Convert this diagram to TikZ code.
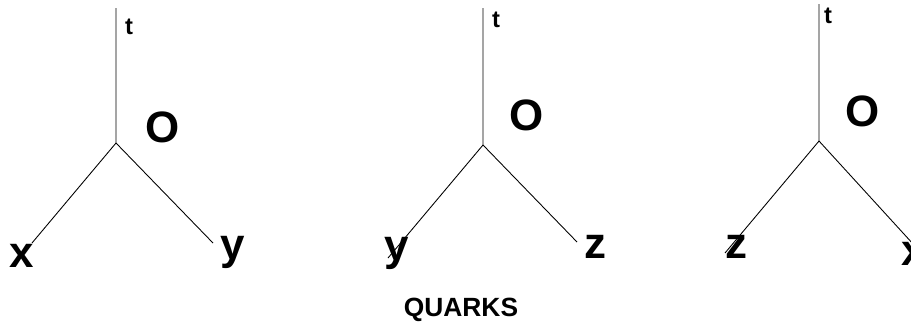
\documentclass[tikz,border=0pt]{standalone}
\usepackage{fontspec}
\setmainfont{Liberation Sans}
\usetikzlibrary{positioning}

\begin{document}
\begin{tikzpicture}[x=0.02cm,y=-0.02cm, line width=0.5pt,
  every node/.style={inner sep=0pt, anchor=base, font=\bfseries},
  axislbl/.style={font=\bfseries\fontsize{25}{25}\selectfont},
  originlbl/.style={font=\bfseries\fontsize{25}{25}\selectfont},
  timelbl/.style={font=\bfseries\fontsize{13.5}{13.5}\selectfont},
  captionlbl/.style={font=\bfseries\fontsize{15}{15}\selectfont}]
  \useasboundingbox (0,0) rectangle (911,325);
  \clip (0,0) rectangle (911,325);
  % first frame
  \coordinate (o1) at (116,143);
  \coordinate (t1) at (116,8);
  \coordinate (l1) at (32,243);
  \coordinate (r1) at (213,243);
  \draw (t1) -- (o1) -- (l1);
  \draw (o1) -- (r1);
  \node[timelbl] (tt1) at (129,34) {t};
  \node[originlbl] (oo1) at (163,142) {O};
  \node[axislbl] (x1) at (22,267) {x};
  \node[axislbl] (y1) at (233,259) {y};
  % second frame
  \coordinate (o2) at (483,145);
  \coordinate (t2) at (483,8);
  \coordinate (l2) at (388,258);
  \coordinate (r2) at (577,242);
  \draw (t2) -- (o2) -- (l2);
  \draw (o2) -- (r2);
  \node[timelbl] (tt2) at (496,27) {t};
  \node[originlbl] (oo2) at (527,130) {O};
  \node[axislbl] (y2) at (397,260) {y};
  \node[axislbl] (z2) at (595,258) {z};
  % third frame, its x runs off the right edge
  \coordinate (o3) at (819,141);
  \coordinate (t3) at (819,4);
  \coordinate (l3) at (725,253);
  \coordinate (r3) at (935,268);
  \draw (t3) -- (o3) -- (l3);
  \draw (o3) -- (r3);
  \node[timelbl] (tt3) at (828,23) {t};
  \node[originlbl] (oo3) at (863,126) {O};
  \node[axislbl] (z3) at (736,258) {z};
  \node[axislbl] (x3) at (914,265) {x};
  % caption
  \node[captionlbl] (cap) at (461,316) {QUARKS};
\end{tikzpicture}
\end{document}
